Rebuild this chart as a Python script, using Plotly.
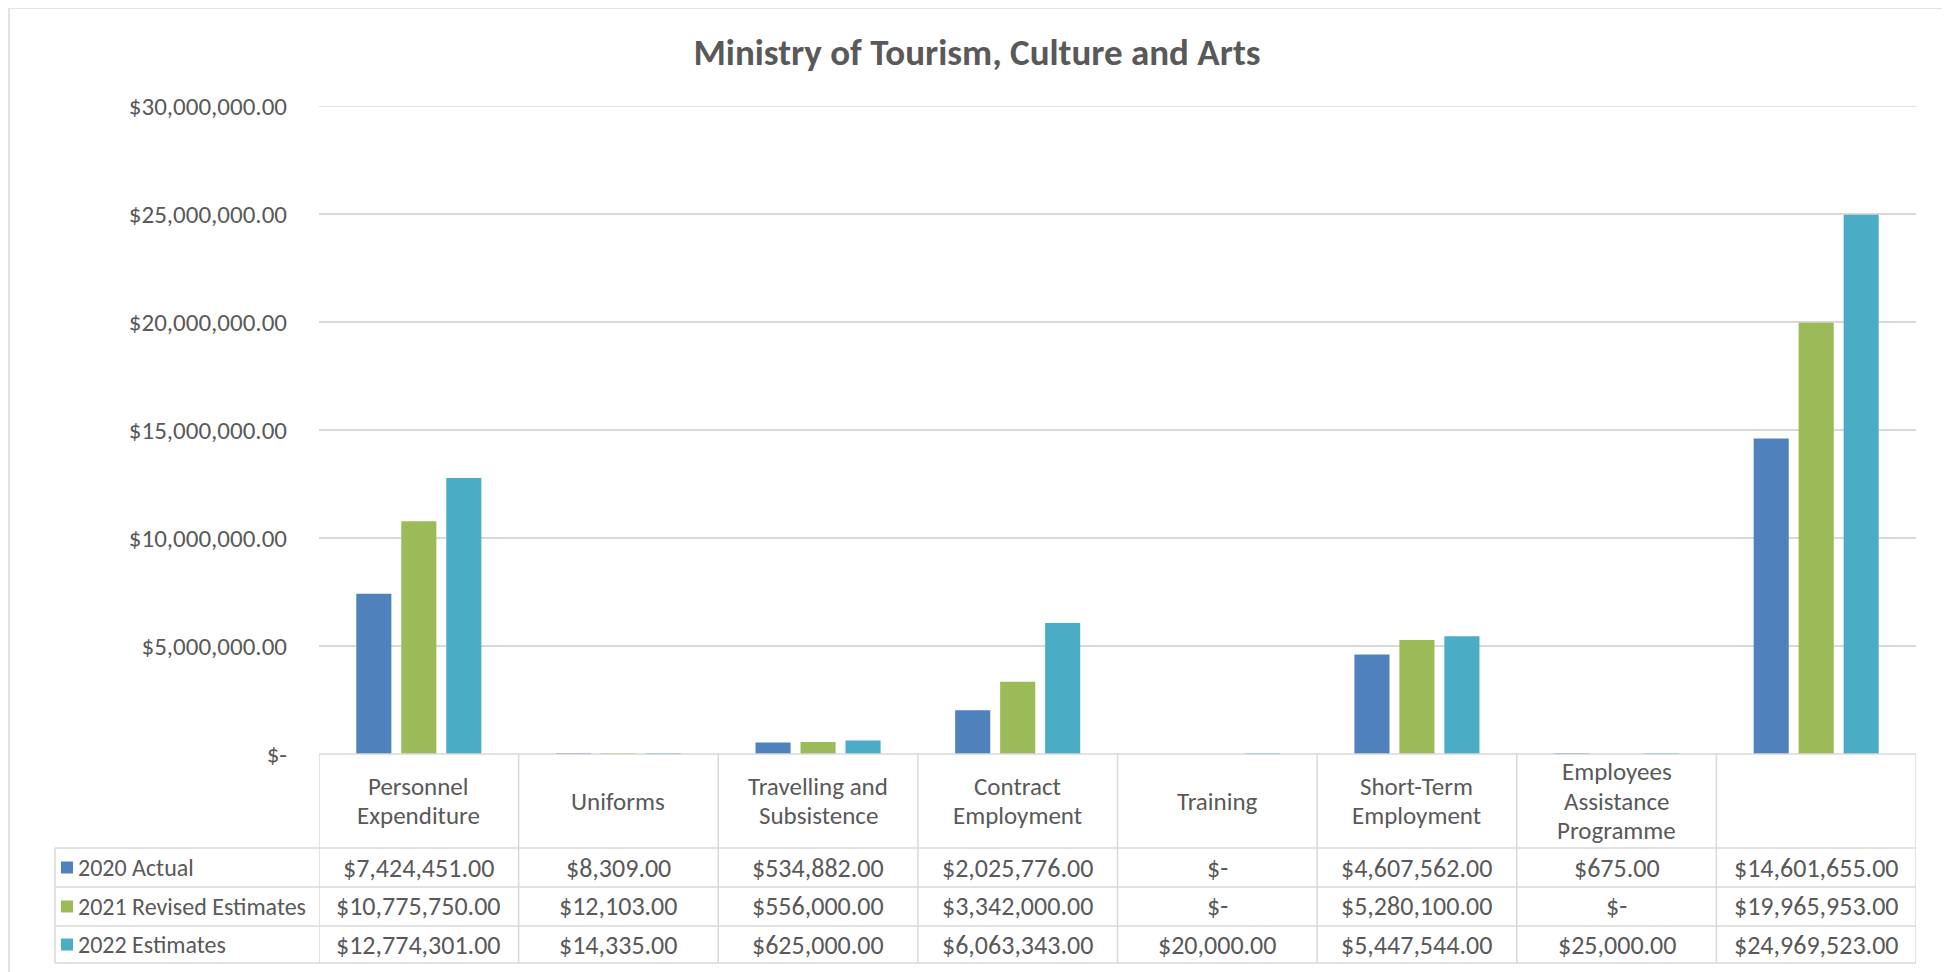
import plotly.graph_objects as go

# ---------------- data ----------------
categories = ["Personnel\nExpenditure", "Uniforms", "Travelling and\nSubsistence",
              "Contract\nEmployment", "Training", "Short-Term\nEmployment",
              "Employees\nAssistance\nProgramme", ""]
series_names = ["2020 Actual", "2021 Revised Estimates", "2022 Estimates"]
actual_2020 = [7424451, 8309, 534882, 2025776, 0, 4607562, 675, 14601655]
revised_2021 = [10775750, 12103, 556000, 3342000, 0, 5280100, 0, 19965953]
estimates_2022 = [12774301, 14335, 625000, 6063343, 20000, 5447544, 25000, 24969523]
y_tick_values = [0, 5000000, 10000000, 15000000, 20000000, 25000000, 30000000]
title_text = "Ministry of Tourism, Culture and Arts"

series_values = [actual_2020, revised_2021, estimates_2022]
series_colors = ["#4F81BD", "#9BBB59", "#4BACC6"]

# ---------------- layout constants (screen pixels) ----------------
W, H = 1950, 972
OFF = 8  # default page body margin
L, R, T, B = 319, 1916, 106, 754
FONT = "Calibri, Carlito, Lato, sans-serif"
TXT = "#595959"
GRID = "#D9D9D9"
FS = 25
FS_LEG = 24
FS_VAL = 26


def fmt(v):
    return "$-" if v == 0 else "${:,.2f}".format(v)


def py(Y):
    return (B - Y) / (B - T)


def pxx(X):
    return (X - L) / (R - L)


n = len(categories)
xs = list(range(n))

fig = go.Figure()
for name, vals, col in zip(series_names, series_values, series_colors):
    fig.add_trace(go.Bar(x=xs, y=vals, name=name, marker=dict(color=col, line=dict(width=0))))

shapes = []
annotations = []

# outer chart border
shapes.append(dict(type="rect", xref="paper", yref="paper", x0=pxx(9), x1=pxx(1945),
                   y0=py(990), y1=py(8), line=dict(color=GRID, width=1.5), layer="below"))

# top gridline (range edge)
shapes.append(dict(type="line", xref="paper", yref="y", x0=0, x1=1,
                   y0=y_tick_values[-1], y1=y_tick_values[-1],
                   line=dict(color=GRID, width=1.5), layer="below"))

# data table geometry
header_top, header_bot = 754, 848
row_bounds = [848, 887, 926, 963]
legend_left = 55

shapes.append(dict(type="line", xref="paper", yref="paper", x0=0, x1=1,
                   y0=py(header_top), y1=py(header_top), line=dict(color=GRID, width=1.5)))
for Y in row_bounds:
    shapes.append(dict(type="line", xref="paper", yref="paper", x0=pxx(legend_left), x1=1,
                       y0=py(Y), y1=py(Y), line=dict(color=GRID, width=1.5)))
for i in range(n + 1):
    shapes.append(dict(type="line", xref="x", yref="paper", x0=i - 0.5, x1=i - 0.5,
                       y0=py(header_top), y1=py(row_bounds[-1]), line=dict(color=GRID, width=1.5)))
shapes.append(dict(type="line", xref="paper", yref="paper", x0=pxx(legend_left), x1=pxx(legend_left),
                   y0=py(row_bounds[0]), y1=py(row_bounds[-1]), line=dict(color=GRID, width=1.5)))

# header labels
header_mid = (header_top + header_bot) / 2
line_gap = 29.5
for i, cat in enumerate(categories):
    if not cat:
        continue
    lines = cat.split("\n")
    k = len(lines)
    for j, ln in enumerate(lines):
        Y = header_mid + (j - (k - 1) / 2) * line_gap
        annotations.append(dict(x=i, y=py(Y), xref="x", yref="paper", text=ln, showarrow=False,
                                xanchor="center", yanchor="middle",
                                font=dict(family=FONT, size=FS, color=TXT)))

# rows
for r, (name, vals, col) in enumerate(zip(series_names, series_values, series_colors)):
    Yc = (row_bounds[r] + row_bounds[r + 1]) / 2
    shapes.append(dict(type="rect", xref="paper", yref="paper", x0=pxx(61), x1=pxx(73),
                       y0=py(Yc + 6), y1=py(Yc - 6), fillcolor=col, line=dict(width=0)))
    annotations.append(dict(x=pxx(76), y=py(Yc), xref="paper", yref="paper", text=name,
                            showarrow=False, xanchor="left", yanchor="middle",
                            font=dict(family=FONT, size=FS_LEG, color=TXT)))
    for i, v in enumerate(vals):
        annotations.append(dict(x=i, y=py(Yc), xref="x", yref="paper", text=fmt(v),
                                showarrow=False, xanchor="center", yanchor="middle",
                                font=dict(family=FONT, size=FS_VAL, color=TXT)))

fig.update_layout(
    width=W, height=H,
    margin=dict(l=L - OFF, r=W - (R - OFF), t=T - OFF, b=H - (B - OFF), pad=0),
    paper_bgcolor="white", plot_bgcolor="white",
    barmode="group", bargap=0.324, bargroupgap=0.22,
    showlegend=False,
    title=dict(text="<b>" + title_text + "</b>", x=(977 - OFF) / W, xref="container",
               xanchor="center", y=1 - (52 - OFF) / H, yref="container", yanchor="middle",
               font=dict(family=FONT, size=37, color=TXT)),
    font=dict(family=FONT, size=FS, color=TXT),
    xaxis=dict(range=[-0.5, n - 0.5], showticklabels=False, showgrid=False, zeroline=False,
               showline=False, ticks=""),
    yaxis=dict(range=[0, 30000000], tickvals=y_tick_values,
               ticktext=[fmt(v) for v in y_tick_values],
               showgrid=True, gridcolor=GRID, gridwidth=1.5, zeroline=False, showline=False,
               ticks="outside", ticklen=26, tickcolor="rgba(0,0,0,0)",
               tickfont=dict(family=FONT, size=FS, color=TXT)),
    shapes=shapes,
    annotations=annotations,
)

fig.write_html("out.html")
